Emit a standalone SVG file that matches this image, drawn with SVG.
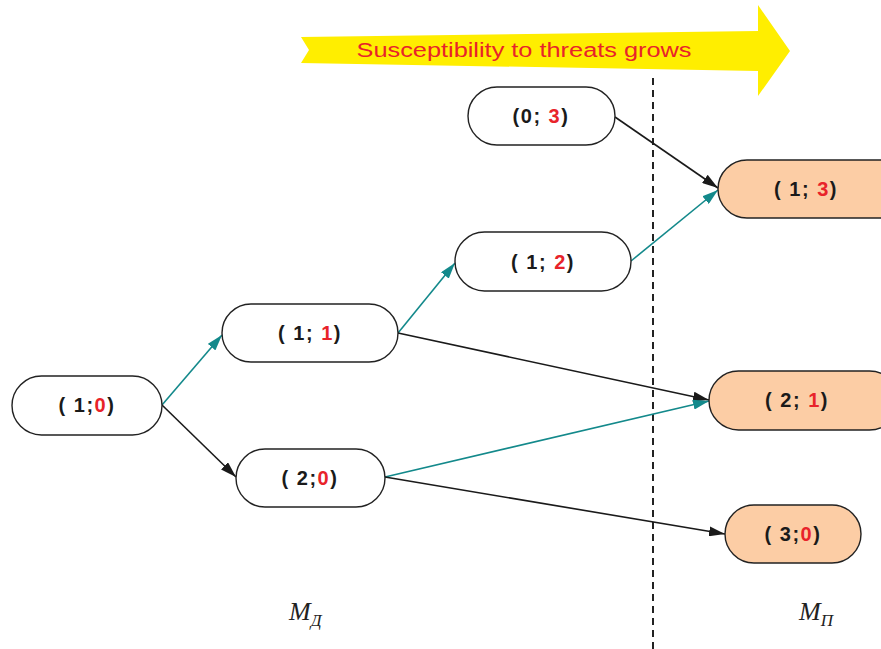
<svg xmlns="http://www.w3.org/2000/svg" width="881" height="649" viewBox="0 0 881 649">
<style>
.node rect{fill:#fff;stroke:#222;stroke-width:1.4}
.node.p rect{fill:#FCCDA5}
.lbl{font-family:"Liberation Sans",Arial,sans-serif;font-weight:bold;font-size:20px;fill:#1a1a1a;text-anchor:middle;letter-spacing:1.5px}
.r{fill:#E8232A}
.teal{stroke:#13898B;stroke-width:1.6;fill:none}
.blk{stroke:#1a1a1a;stroke-width:1.6;fill:none}
.m{font-family:"Liberation Serif","Times New Roman",serif;font-style:italic;fill:#222}
</style>
<defs>
<marker id="ab" viewBox="0 0 16 10" refX="16" refY="5" markerWidth="16" markerHeight="10" markerUnits="userSpaceOnUse" orient="auto"><path d="M0,0L16,5L0,10Z" fill="#1a1a1a"/></marker>
<marker id="at" viewBox="0 0 16 10" refX="16" refY="5" markerWidth="16" markerHeight="10" markerUnits="userSpaceOnUse" orient="auto"><path d="M0,0L16,5L0,10Z" fill="#13898B"/></marker>
</defs>
<rect width="881" height="649" fill="#fff"/>
<g id="banner">
<path d="M301,37L758,31L758,5L790,51L758,96L758,71L301,63L309,50Z" fill="#FFEE00"/>
<text x="524" y="57" font-family="Liberation Sans,Arial,sans-serif" font-size="20" fill="#E8232A" text-anchor="middle" textLength="335" lengthAdjust="spacingAndGlyphs">Susceptibility to threats grows</text>
</g>
<line id="divider" x1="653" y1="78" x2="653" y2="649" stroke="#222" stroke-width="2" stroke-dasharray="7,5"/>
<g id="connectors">
<line class="teal" x1="162" y1="405" x2="222" y2="335" marker-end="url(#at)"/>
<line class="blk" x1="162" y1="405" x2="236" y2="477" marker-end="url(#ab)"/>
<line class="teal" x1="398" y1="333" x2="455" y2="263" marker-end="url(#at)"/>
<line class="blk" x1="398" y1="333" x2="709" y2="400" marker-end="url(#ab)"/>
<line class="teal" x1="385" y1="477" x2="709" y2="401" marker-end="url(#at)"/>
<line class="blk" x1="385" y1="477" x2="725" y2="534" marker-end="url(#ab)"/>
<line class="teal" x1="631" y1="261" x2="718" y2="190" marker-end="url(#at)"/>
<line class="blk" x1="615" y1="117" x2="718" y2="188" marker-end="url(#ab)"/>
</g>
<g id="n10" class="node"><rect x="12" y="376" width="150" height="59" rx="29.5"/><text class="lbl" x="87" y="412">( 1;<tspan class="r">0</tspan>)</text></g>
<g id="n11" class="node"><rect x="222" y="304" width="176" height="58" rx="29"/><text class="lbl" x="310" y="340">( 1; <tspan class="r">1</tspan>)</text></g>
<g id="n20" class="node"><rect x="236" y="449" width="149" height="58" rx="29"/><text class="lbl" x="310" y="485">( 2;<tspan class="r">0</tspan>)</text></g>
<g id="n12" class="node"><rect x="455" y="232" width="176" height="59" rx="29.5"/><text class="lbl" x="543" y="269">( 1; <tspan class="r">2</tspan>)</text></g>
<g id="n03" class="node"><rect x="468" y="87" width="147" height="58" rx="29"/><text class="lbl" x="541" y="123">(0; <tspan class="r">3</tspan>)</text></g>
<g id="n13" class="node p"><rect x="718" y="160" width="190" height="58" rx="29"/><text class="lbl" x="806" y="196">( 1; <tspan class="r">3</tspan>)</text></g>
<g id="n21" class="node p"><rect x="709" y="371" width="190" height="59" rx="29.5"/><text class="lbl" x="797" y="407">( 2; <tspan class="r">1</tspan>)</text></g>
<g id="n30" class="node p"><rect x="725" y="505" width="136" height="58" rx="29"/><text class="lbl" x="793" y="541">( 3;<tspan class="r">0</tspan>)</text></g>
<text id="md" class="m" x="289" y="620" font-size="26">M<tspan font-size="17" dy="6">Д</tspan></text>
<text id="mp" class="m" x="799" y="620" font-size="26">M<tspan font-size="17" dy="6">П</tspan></text>
</svg>
